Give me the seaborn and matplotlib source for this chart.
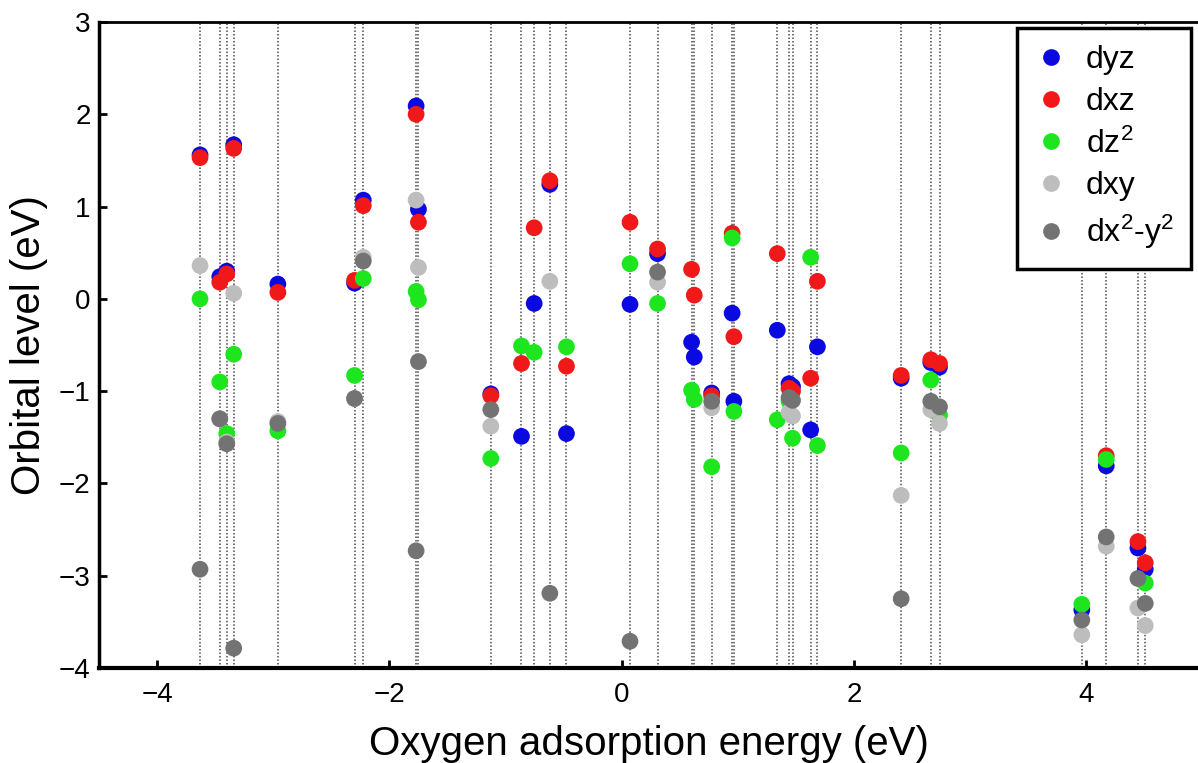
import numpy as np
import pandas as pd
import matplotlib
matplotlib.use('Agg')
import matplotlib.pyplot as plt
import seaborn as sns

nan = np.nan

#oxygen adsorption energy for each structure (eV)
ads_energy = [-3.63, -3.46, -3.40, -3.34, -2.96, -2.30, -2.225, -1.77, -1.75,
              -1.127, -0.863, -0.754, -0.619, -0.476, 0.071, 0.308, 0.601, 0.624,
              0.774, 0.95, 0.965, 1.339, 1.44, 1.47, 1.626, 1.684, 2.405, 2.66,
              2.735, 3.96, 4.17, 4.443, 4.506]

#orbital levels, nan where the point is not visible
dyz = [1.56, 0.24, 0.30, 1.67, 0.16, 0.17, 1.07, 2.09, 0.97,
       -1.03, -1.49, -0.05, 1.24, -1.46, -0.06, 0.49, -0.47, -0.63,
       -1.02, -0.155, -1.11, -0.34, -0.92, -0.95, -1.42, -0.52, -0.86, -0.69,
       -0.74, -3.37, -1.81, -2.70, -2.93]
dxz = [1.53, 0.18, 0.27, 1.63, 0.07, 0.20, 1.01, 2.00, 0.83,
       -1.05, -0.70, 0.77, 1.28, -0.73, 0.83, 0.54, 0.32, 0.04,
       -1.05, 0.71, -0.41, 0.49, -0.97, -1.00, -0.86, 0.19, -0.83, -0.66,
       -0.70, nan, -1.70, -2.63, -2.86]
dz2 = [0.00, -0.90, -1.46, -0.60, -1.43, -0.83, 0.22, 0.08, -0.01,
       -1.73, -0.51, -0.58, nan, -0.52, 0.38, -0.05, -0.99, -1.09,
       -1.82, 0.66, -1.22, -1.31, -1.11, -1.51, 0.45, -1.59, -1.67, -0.88,
       -1.26, -3.31, -1.74, nan, -3.08]
dxy = [0.36, -1.30, -1.55, 0.06, -1.33, -1.08, 0.45, 1.07, 0.34,
       -1.38, nan, nan, 0.19, nan, nan, 0.18, nan, nan,
       -1.18, nan, nan, nan, -1.23, -1.27, nan, nan, -2.13, -1.20,
       -1.35, -3.64, -2.68, -3.35, -3.54]
dx2y2 = [-2.93, -1.30, -1.57, -3.785, -1.35, -1.08, 0.41, -2.73, -0.68,
         -1.20, nan, nan, -3.19, nan, -3.71, 0.29, nan, nan,
         -1.11, nan, nan, nan, -1.07, -1.10, nan, nan, -3.25, -1.11,
         -1.17, -3.48, -2.58, -3.03, -3.30]

orbital_names = ['dyz', 'dxz', r'dz$^2$', 'dxy', r'dx$^2$-y$^2$']
orbital_colors = ['#0a0ae0', '#f01818', '#1ee61e', '#bdbdbd', '#737373']

#long format table for seaborn
data = pd.DataFrame({'E_ads': ads_energy, orbital_names[0]: dyz, orbital_names[1]: dxz,
                     orbital_names[2]: dz2, orbital_names[3]: dxy, orbital_names[4]: dx2y2})
data = data.melt(id_vars='E_ads', var_name='orbital', value_name='level').dropna()

sns.set_style('ticks', {'axes.edgecolor': 'black', 'text.color': 'black',
                        'axes.labelcolor': 'black', 'xtick.color': 'black',
                        'ytick.color': 'black'})
plt.rcParams['font.family'] = ['Liberation Sans', 'DejaVu Sans']
plt.rcParams['mathtext.fontset'] = 'custom'
plt.rcParams['mathtext.rm'] = 'Liberation Sans'
plt.rcParams['mathtext.it'] = 'Liberation Sans'

fig = plt.figure(figsize=(11.98, 7.63), dpi=100)
ax = fig.add_axes([0.0826, 0.1245, 0.9174, 0.8467])

#dotted guide line for each structure
for e in ads_energy:
    ax.axvline(e, color='#4a4a4a', linestyle=(0, (1, 1.3)), linewidth=1.1, zorder=1)

sns.scatterplot(x='E_ads', y='level', hue='orbital', data=data, hue_order=orbital_names,
                palette=dict(zip(orbital_names, orbital_colors)), s=145, linewidth=0,
                ax=ax, zorder=3)

ax.set_xlim(-4.5, 4.96)
ax.set_ylim(-4, 3)
ax.set_xticks([-4, -2, 0, 2, 4])
ax.set_yticks(range(-4, 4))
ax.tick_params(direction='in', length=6, width=2, labelsize=20)
ax.tick_params(axis='x', pad=10)
ax.tick_params(axis='y', pad=6)
ax.spines['right'].set_visible(False)
ax.spines['left'].set_linewidth(2.5)
ax.spines['bottom'].set_linewidth(3)
ax.spines['top'].set_linewidth(2)

ax.set_xlabel('Oxygen adsorption energy (eV)', fontsize=29, labelpad=12)
ax.set_ylabel('Orbital level (eV)', fontsize=29, labelpad=8)

sns.move_legend(ax, 'upper right', bbox_to_anchor=(0.994, 0.991), borderaxespad=0,
                title=None, fontsize=23, frameon=True, fancybox=False, framealpha=1,
                edgecolor='black', labelspacing=0.36, handlelength=1.0,
                handletextpad=0.6, borderpad=0.55, markerscale=1.0)
ax.get_legend().get_frame().set_linewidth(2.5)

fig.savefig('out.png', dpi=100)
